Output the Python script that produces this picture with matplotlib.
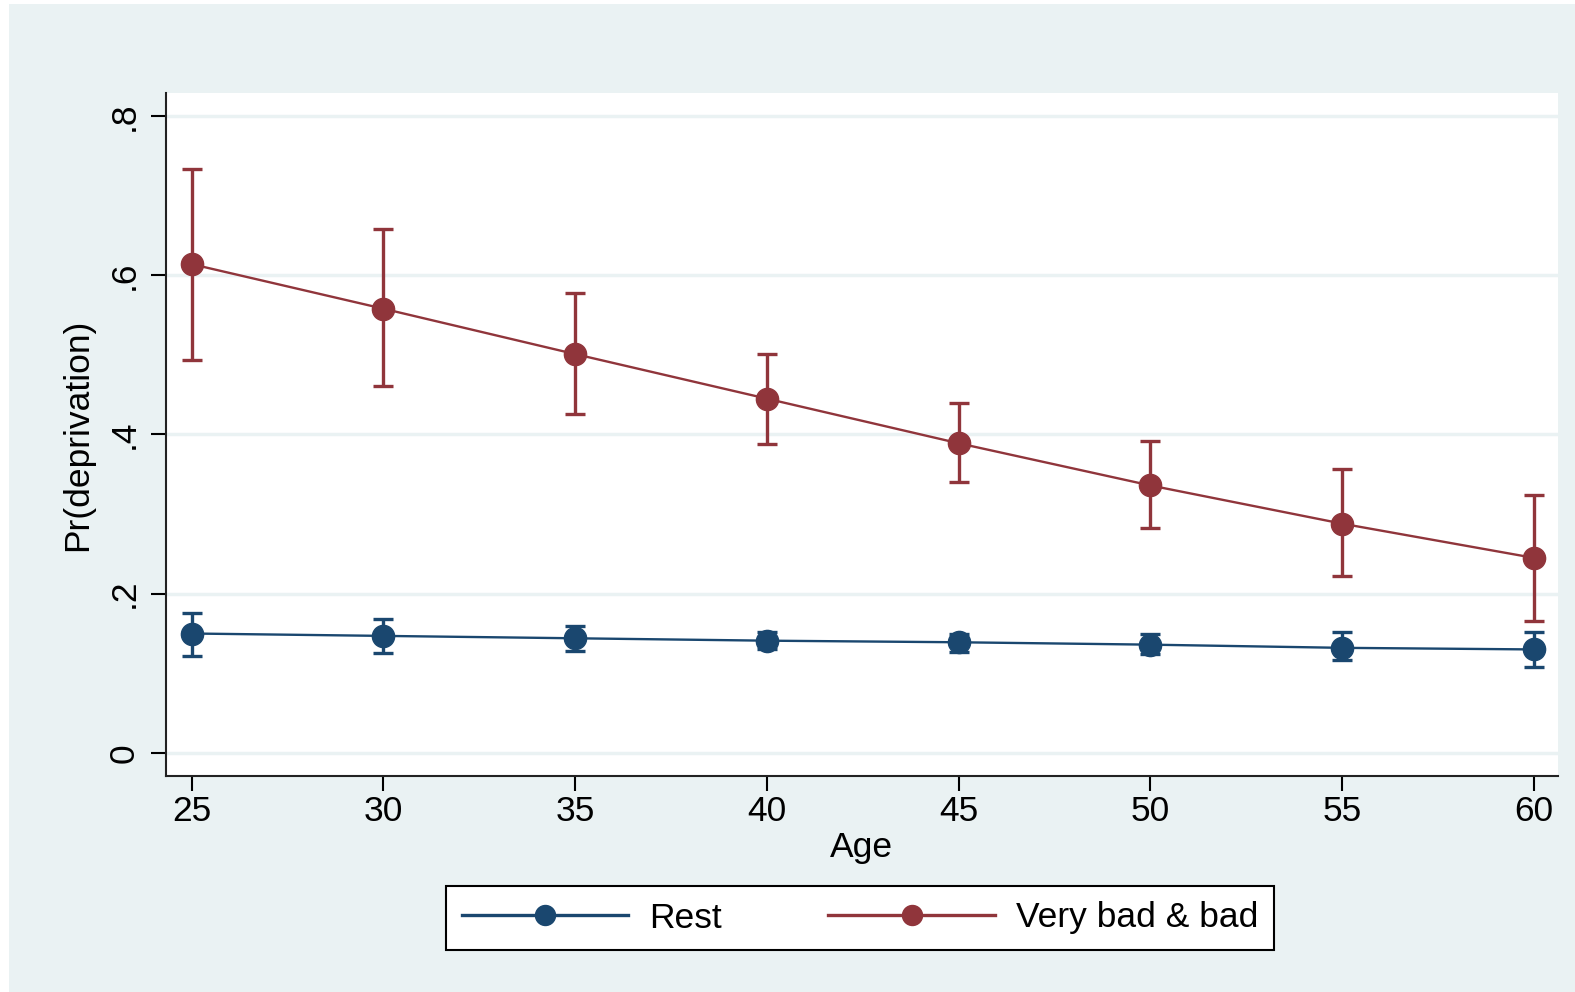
import numpy as np
import matplotlib
matplotlib.use("Agg")
import matplotlib.pyplot as plt
from matplotlib.patches import Rectangle

plt.rcParams['font.family'] = ['Liberation Sans', 'DejaVu Sans']

# data
age = [25, 30, 35, 40, 45, 50, 55, 60]
rest = [0.150, 0.147, 0.144, 0.141, 0.139, 0.136, 0.132, 0.130]
rest_lo = [0.122, 0.126, 0.128, 0.130, 0.127, 0.124, 0.117, 0.108]
rest_hi = [0.176, 0.168, 0.159, 0.152, 0.150, 0.149, 0.152, 0.152]
bad = [0.614, 0.558, 0.501, 0.445, 0.389, 0.336, 0.288, 0.245]
bad_lo = [0.494, 0.461, 0.426, 0.388, 0.340, 0.282, 0.222, 0.166]
bad_hi = [0.734, 0.658, 0.578, 0.501, 0.440, 0.392, 0.357, 0.324]
yticks = [0, 0.2, 0.4, 0.6, 0.8]
yticklabels = ["0", ".2", ".4", ".6", ".8"]

navy = "#1A476F"
maroon = "#90353B"
bg = "#EAF2F3"
fs = 25.5

fig = plt.figure(figsize=(15.75, 9.92), dpi=100)
fig.patch.set_facecolor("white")
fig.patches.append(Rectangle((9/1575, 0), 1, 1 - 4/992, transform=fig.transFigure,
                             facecolor=bg, edgecolor="none", zorder=-10))

ax = fig.add_axes([166/1575, 1 - 776/992, (1558 - 166)/1575, (776 - 93)/992])
ax.set_facecolor("white")

def err(v, lo, hi):
    v = np.array(v)
    return [v - np.array(lo), np.array(hi) - v]

for y, lo, hi, c, lab in [(rest, rest_lo, rest_hi, navy, "Rest"),
                          (bad, bad_lo, bad_hi, maroon, "Very bad & bad")]:
    ax.errorbar(age, y, yerr=err(y, lo, hi), fmt="none", ecolor=c, elinewidth=2.4,
                capsize=7.5, capthick=2.4, zorder=3)
    ax.plot(age, y, "-o", color=c, lw=1.7, markersize=16, label=lab, zorder=4)

ax.set_xlim(24.33, 60.63)
ax.set_ylim(-0.029, 0.829)
ax.set_xticks(age)
ax.set_yticks(yticks)
ax.set_yticklabels(yticklabels, rotation=90, va="center")
ax.tick_params(axis="both", labelsize=fs, length=11, width=1.5, color="black")
ax.tick_params(axis="y", pad=7)
ax.tick_params(axis="x", pad=3)
ax.grid(axis="y", color=bg, lw=2.5)
ax.set_axisbelow(True)
for s in ["top", "right"]:
    ax.spines[s].set_visible(False)
for s in ["left", "bottom"]:
    ax.spines[s].set_linewidth(1.5)
    ax.spines[s].set_color("#222222")

ax.set_xlabel("Age", fontsize=fs, labelpad=2)
ax.set_ylabel("Pr(deprivation)", fontsize=fs, labelpad=10)

h, l = ax.get_legend_handles_labels()
leg = fig.legend(h, l, loc="center", bbox_to_anchor=(860/1575, 1 - 918/992), ncol=2,
                 fontsize=fs, frameon=True, fancybox=False, edgecolor="black",
                 facecolor="white", framealpha=1,
                 handlelength=4.7, handletextpad=0.6, columnspacing=3.0,
                 borderpad=0.45, markerscale=0.9)
leg.get_frame().set_linewidth(1.5)
for ln in leg.get_lines():
    ln.set_linewidth(2.4)

fig.savefig("out.png", dpi=100, facecolor=fig.get_facecolor())
